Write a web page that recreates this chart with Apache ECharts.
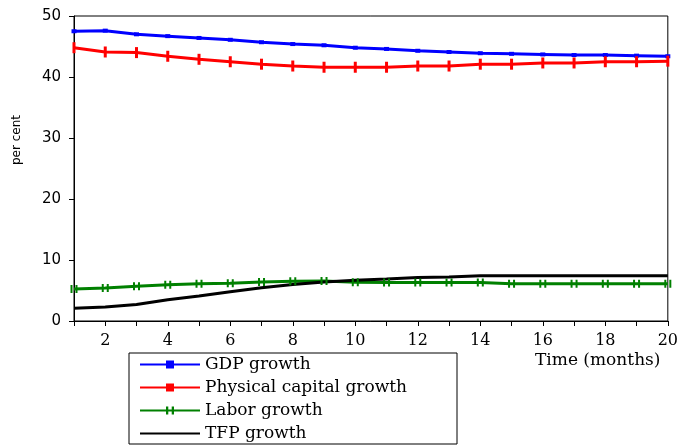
<!DOCTYPE html>
<html><head><meta charset="utf-8">
<script src="https://cdn.jsdelivr.net/npm/echarts@6/dist/echarts.min.js"></script>
<style>html,body{margin:0;padding:0;background:#fff}#c{width:681px;height:447px}</style>
</head><body><div id="c"></div>
<script>
const months = [1,2,3,4,5,6,7,8,9,10,11,12,13,14,15,16,17,18,19,20];
const gdpGrowth = [47.5,47.6,47.0,46.7,46.4,46.1,45.7,45.4,45.2,44.8,44.6,44.3,44.1,43.9,43.8,43.7,43.6,43.6,43.5,43.4];
const capitalGrowth = [44.8,44.1,44.0,43.4,42.9,42.5,42.1,41.8,41.6,41.6,41.6,41.8,41.8,42.1,42.1,42.3,42.3,42.5,42.5,42.6];
const laborGrowth = [5.25,5.4,5.7,5.95,6.1,6.2,6.4,6.5,6.55,6.35,6.3,6.3,6.3,6.3,6.1,6.1,6.1,6.1,6.1,6.1];
const tfpGrowth = [2.1,2.3,2.7,3.5,4.1,4.8,5.45,6.0,6.4,6.7,6.9,7.15,7.2,7.4,7.4,7.4,7.4,7.4,7.4,7.4];
const seriesNames = ['GDP growth','Physical capital growth','Labor growth','TFP growth'];
const yTicks = [0,10,20,30,40,50];

const pair = a => months.map((m,i)=>[m,a[i]]);
const chart = echarts.init(document.getElementById('c'));
const serif = 'DejaVu Serif';
chart.setOption({
  animation:false,
  grid:{left:74,right:12,top:16,bottom:126,show:true,borderColor:'#000',borderWidth:1},
  xAxis:{type:'value',min:1,max:20,interval:1,
    axisLine:{lineStyle:{color:'#000',width:1}},
    axisTick:{length:5,lineStyle:{color:'#000'}},
    splitLine:{show:false},
    axisLabel:{color:'#000',fontFamily:serif,fontSize:16,margin:12,
      formatter:v=> (v%2===0? String(v):'')}
  },
  yAxis:{type:'value',min:yTicks[0],max:yTicks[yTicks.length-1],interval:10,
    axisLine:{show:true,lineStyle:{color:'#000',width:1}},
    axisTick:{show:true,length:5,lineStyle:{color:'#000'}},
    splitLine:{show:false},
    axisLabel:{color:'#000',fontFamily:'DejaVu Sans',fontSize:15,margin:13}
  },
  legend:{orient:'vertical',left:129,top:353,itemWidth:60,itemHeight:10,itemGap:6,
    padding:[3,50,2,10],borderColor:'#000',borderWidth:1,
    textStyle:{fontFamily:serif,fontSize:17,color:'#000'},
    data:[seriesNames[0],seriesNames[1],seriesNames[2],{name:seriesNames[3],itemStyle:{opacity:0}}]},
  graphic:[
    {type:'text',left:535,top:352,style:{text:'Time (months)',font:'17px "DejaVu Serif"',fill:'#000'}},
    {type:'text',x:17,y:140,rotation:Math.PI/2,style:{text:'per cent',font:'12px "DejaVu Sans"',fill:'#000',textAlign:'center',textVerticalAlign:'middle'}}
  ],
  series:[
    {name:seriesNames[0],type:'line',data:pair(gdpGrowth),symbol:'rect',symbolSize:[5,4],
      itemStyle:{color:'#0000ff'},lineStyle:{color:'#0000ff',width:3}},
    {name:seriesNames[1],type:'line',data:pair(capitalGrowth),symbol:'rect',symbolSize:[3,11],
      itemStyle:{color:'#ff0000'},lineStyle:{color:'#ff0000',width:3}},
    {name:seriesNames[2],type:'line',data:pair(laborGrowth),symbol:'path://M0,0L2,0L2,10L0,10Z M5,0L7,0L7,10L5,10Z',symbolSize:[7,8],
      itemStyle:{color:'#008000'},lineStyle:{color:'#008000',width:3}},
    {name:seriesNames[3],type:'line',data:pair(tfpGrowth),symbol:'none',
      itemStyle:{color:'#000'},lineStyle:{color:'#000',width:3}}
  ]
});
</script></body></html>
